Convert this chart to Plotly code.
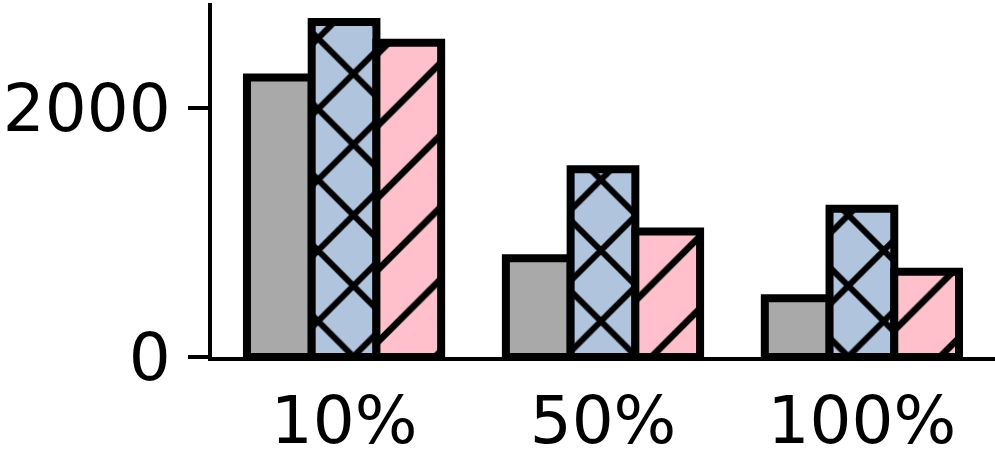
import plotly.graph_objects as go

categories = ["10%", "50%", "100%"]
gray_vals = [2245, 794, 472]
blue_vals = [2690, 1508, 1190]
pink_vals = [2524, 1008, 685]
y_tickvals = [0, 2000]
y_ticktext = ["0", "2000"]

x = [0, 1, 2]

fig = go.Figure()
fig.add_trace(go.Bar(x=x, y=gray_vals, marker=dict(color="#a9a9a9", line=dict(color="black", width=8))))
fig.add_trace(go.Bar(x=x, y=blue_vals, marker=dict(color="#b0c4de", line=dict(color="black", width=8),
                                                   pattern=dict(shape="x", size=50, solidity=0.23,
                                                                fgcolor="black", bgcolor="#b0c4de",
                                                                fgopacity=1))))
fig.add_trace(go.Bar(x=x, y=pink_vals, marker=dict(color="#ffc0cb", line=dict(color="black", width=8),
                                                   pattern=dict(shape="/", size=51, solidity=0.13,
                                                                fgcolor="black", bgcolor="#ffc0cb",
                                                                fgopacity=1))))

fig.update_layout(
    width=995, height=453,
    margin=dict(l=212, r=0, t=3, b=96, autoexpand=False),
    barmode="group", bargap=0.25, bargroupgap=0,
    showlegend=False,
    plot_bgcolor="white", paper_bgcolor="white",
    font=dict(family="DejaVu Sans", size=66, color="black"),
)
fig.update_xaxes(
    range=[-0.51, 2.514], tickvals=x, ticktext=categories, automargin=False,
    showline=True, linecolor="black", linewidth=4, ticks="", showgrid=False, zeroline=False,
    ticklabelstandoff=3,
)
fig.update_yaxes(
    range=[0, 2843], tickvals=y_tickvals, ticktext=y_ticktext, automargin=False,
    showline=True, linecolor="black", linewidth=4, ticks="outside", ticklen=20, tickwidth=4,
    tickcolor="black", showgrid=False, zeroline=False, ticklabelstandoff=4,
)
fig.write_html("out.html", config={"displayModeBar": False},
               post_script="document.body.style.margin='0';document.body.style.overflow='hidden';")
